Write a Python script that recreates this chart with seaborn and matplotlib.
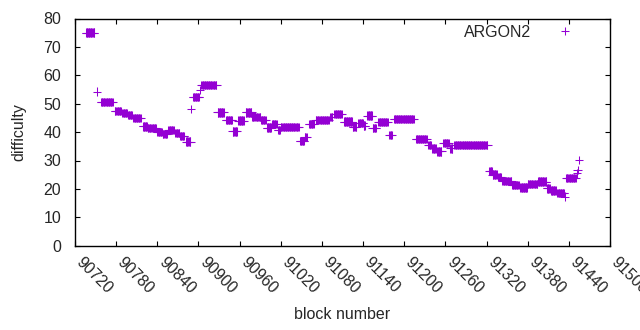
import numpy as np
import pandas as pd
import matplotlib
matplotlib.use('Agg')
import matplotlib.pyplot as plt
import matplotlib.transforms as mtransforms
import seaborn as sns

# difficulty runs: first block, last block, difficulty
run_first = [90736, 90752, 90758, 90778, 90789, 90797, 90805, 90819, 90826, 90840,
             90848, 90856, 90866, 90873, 90882, 90889, 90892, 90902, 90904, 90928,
             90940, 90950, 90958, 90969, 90978, 90984, 90991, 91000, 91007, 91016,
             91020, 91048, 91055, 91061, 91071, 91092, 91098, 91112, 91125, 91133,
             91141, 91146, 91154, 91162, 91178, 91185, 91217, 91235, 91241, 91248,
             91257, 91267, 91273, 91324, 91329, 91337, 91343, 91357, 91369, 91380,
             91395, 91408, 91414, 91423, 91434, 91436, 91452, 91453, 91455]
run_last = [90748, 90752, 90775, 90787, 90796, 90803, 90816, 90825, 90838, 90847,
            90854, 90864, 90872, 90879, 90888, 90889, 90901, 90902, 90926, 90937,
            90949, 90956, 90966, 90977, 90982, 90990, 90998, 91006, 91014, 91019,
            91046, 91054, 91058, 91068, 91090, 91095, 91109, 91124, 91130, 91140,
            91143, 91153, 91159, 91176, 91182, 91214, 91233, 91239, 91246, 91254,
            91265, 91270, 91321, 91328, 91335, 91341, 91356, 91367, 91379, 91394,
            91407, 91412, 91421, 91433, 91434, 91450, 91452, 91453, 91455]
run_diff = [75.0, 54.2, 50.6, 47.4, 46.7, 46.0, 45.0, 42.0, 41.5, 40.1,
            39.4, 40.8, 39.7, 38.6, 36.6, 48.1, 52.4, 54.8, 56.6, 47.0,
            44.3, 40.3, 44.0, 47.0, 45.5, 45.3, 44.3, 41.6, 42.8, 40.8,
            41.8, 36.8, 38.2, 42.9, 44.2, 45.3, 46.3, 43.7, 41.9, 43.2,
            42.3, 45.8, 41.4, 43.5, 39.0, 44.6, 37.5, 35.5, 34.3, 33.2,
            36.1, 34.3, 35.5, 26.3, 25.0, 24.2, 22.8, 21.4, 20.5, 21.7,
            22.6, 20.2, 19.5, 18.5, 17.3, 23.8, 25.5, 26.7, 30.2]

blocks = []
diffs = []
for a, b, d in zip(run_first, run_last, run_diff):
    for blk in range(a, b + 1):
        blocks.append(blk)
        diffs.append(d)
df = pd.DataFrame({'block number': blocks, 'difficulty': diffs, 'algo': 'ARGON2'})

x_ticks = list(range(90720, 91501, 60))
y_ticks = list(range(0, 81, 10))

sns.set_style('white')
plt.rcParams['font.family'] = ['Liberation Sans', 'DejaVu Sans']
fs = 11.5

fig = plt.figure(figsize=(6.4, 3.3), dpi=100)
ax = fig.add_axes([75 / 640, 1 - 245.7 / 330, 535 / 640, (245.7 - 18.5) / 330])

sns.scatterplot(data=df, x='block number', y='difficulty', hue='algo',
                palette=['#9400d3'], marker='+', s=38, linewidth=0.75, ax=ax)

ax.set_xlim(90720, 91500)
ax.set_ylim(0, 80)
ax.set_xticks(x_ticks)
ax.set_yticks(y_ticks)
ax.tick_params(direction='in', length=3.5, width=0.8, color='black',
               top=True, right=True, bottom=True, left=True, labelsize=fs)
ax.tick_params(axis='x', pad=6)
ax.tick_params(axis='y', pad=10)
ax.set_xticklabels([str(t) for t in x_ticks], rotation=-45, ha='left', va='top',
                   rotation_mode='anchor')
# nudge the rotated labels so they start right under their tick, like gnuplot
shift = mtransforms.ScaledTranslation(9 / 100, 0, fig.dpi_scale_trans)
for lab in ax.get_xticklabels():
    lab.set_transform(lab.get_transform() + shift)
for sp in ax.spines.values():
    sp.set_visible(True)
    sp.set_color('black')
    sp.set_linewidth(1)

ax.set_xlabel('block number', fontsize=fs, labelpad=8)
ax.set_ylabel('difficulty', fontsize=fs, labelpad=12)

leg = ax.legend(loc='upper right', bbox_to_anchor=(0.957, 1.0), borderaxespad=0,
                frameon=False, markerfirst=False, handletextpad=1.1, fontsize=fs)

fig.savefig('out.png', dpi=100)
